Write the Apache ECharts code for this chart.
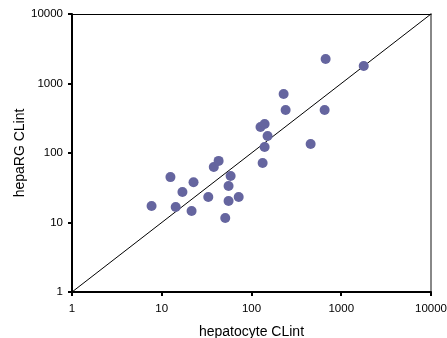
<!DOCTYPE html>
<html>
<head>
<meta charset="utf-8">
<script src="https://cdn.jsdelivr.net/npm/echarts@6/dist/echarts.min.js"></script>
<style>
  html, body { margin: 0; padding: 0; background: #fff; }
  #main { width: 447px; height: 338px; }
</style>
</head>
<body>
<div id="main"></div>
<script>
// values (both axes log scale)
const hepatocyte = [7.7, 12.5, 14.3, 17, 21.5, 22.6, 33, 38, 43, 51, 55.5, 55.5, 58.5, 72,
  126, 140, 133, 140, 151, 228, 240, 456, 653, 670, 1780];
const hepaRG = [17.3, 45, 16.7, 27.5, 14.6, 38, 23.3, 63, 77, 11.6, 33.5, 20.4, 46.7, 23.3,
  237, 261, 72, 122, 176, 706, 415, 135, 415, 2250, 1790];
const identityLine = [[1, 1], [10000, 10000]];

const chartDom = document.getElementById("main");
const myChart = echarts.init(chartDom);

const points = hepatocyte.map((x, i) => [x, hepaRG[i]]);
const font = "Liberation Sans, Arial, sans-serif";
const labelFont = { color: "#000", fontSize: 11.5, fontFamily: font, formatter: (v) => String(v) };

const option = {
  animation: false,
  grid: { left: 72, right: 16, top: 14, bottom: 46, outerBoundsMode: "none", containLabel: false },
  xAxis: [
    {
      type: "log",
      logBase: 10,
      min: 1,
      max: 10000,
      name: "hepatocyte CLint",
      nameLocation: "middle",
      nameGap: 33,
      nameMoveOverlap: false,
      nameTextStyle: { color: "#000", fontSize: 14, fontFamily: font },
      axisLine: { lineStyle: { color: "#000", width: 2 } },
      axisTick: { show: true, length: 4, lineStyle: { color: "#000", width: 2 } },
      axisLabel: { ...labelFont, margin: 11 },
      splitLine: { show: false },
    },
    {
      // top border
      type: "log",
      position: "top",
      min: 1,
      max: 10000,
      axisLine: { lineStyle: { color: "#000", width: 1 } },
      axisTick: { show: false },
      axisLabel: { show: false },
      splitLine: { show: false },
    },
  ],
  yAxis: [
    {
      type: "log",
      logBase: 10,
      min: 1,
      max: 10000,
      name: "hepaRG CLint",
      nameLocation: "middle",
      nameGap: 45,
      nameMoveOverlap: false,
      nameTextStyle: { color: "#000", fontSize: 14, fontFamily: font },
      axisLine: { lineStyle: { color: "#000", width: 2 } },
      axisTick: { show: true, length: 4, lineStyle: { color: "#000", width: 2 } },
      axisLabel: { ...labelFont, margin: 9 },
      splitLine: { show: false },
    },
    {
      // right border
      type: "log",
      position: "right",
      min: 1,
      max: 10000,
      axisLine: { show: true, lineStyle: { color: "#888", width: 2 } },
      axisTick: { show: false },
      axisLabel: { show: false },
      splitLine: { show: false },
    },
  ],
  series: [
    {
      type: "line",
      data: identityLine,
      showSymbol: false,
      symbol: "none",
      lineStyle: { color: "#000", width: 1 },
      z: 1,
    },
    {
      type: "scatter",
      data: points,
      symbolSize: 10,
      itemStyle: { color: "#65659f", opacity: 1 },
      z: 2,
    },
  ],
};

myChart.setOption(option);
</script>
</body>
</html>
